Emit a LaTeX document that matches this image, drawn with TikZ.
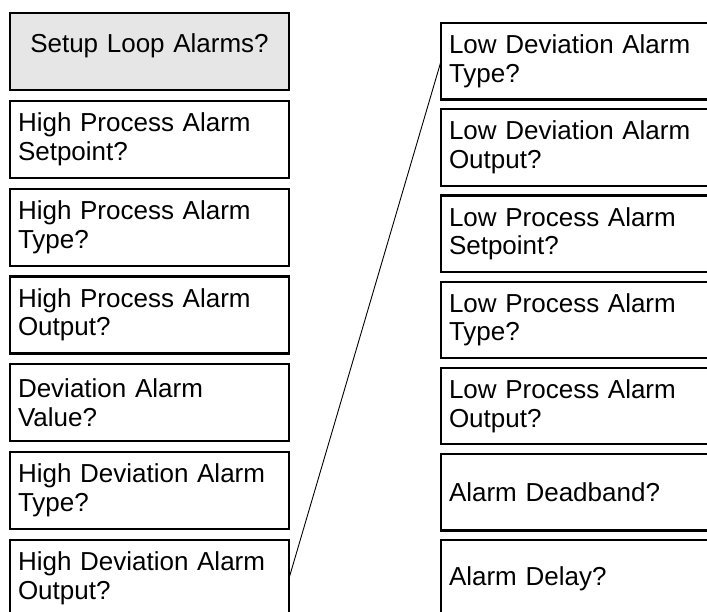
\documentclass[tikz,border=0pt]{standalone}
\usepackage{fontspec}
\setmainfont{Liberation Sans}
\usetikzlibrary{positioning}
\definecolor{setupgray}{RGB}{230,230,230}

\begin{document}
\begin{tikzpicture}[
    x=1pt, y=1pt,
    box/.style={rectangle, draw, line width=2.2pt, outer sep=0pt, inner xsep=8pt, inner ysep=0pt, text width=263pt, minimum height=77pt, align=left, font=\fontsize{26}{28.5}\selectfont},
    leftbox/.style={box, below=10.8pt of #1},
    rightbox/.style={box, minimum height=76.5pt, below=9.7pt of #1}
]
    \useasboundingbox (0,0) rectangle (707,-611);
    \clip (0,0) rectangle (707,-611);

    % Left column
    \node[box, fill=setupgray, align=center, text depth=16pt, anchor=north west] (setup) at (10,-13) {Setup Loop Alarms?};
    \node[leftbox=setup] (hpset) {High Process Alarm\\Setpoint?};
    \node[leftbox=hpset] (hptype) {High Process Alarm\\Type?};
    \node[leftbox=hptype] (hpout) {High Process Alarm\\Output?};
    \node[leftbox=hpout] (devval) {Deviation Alarm\\Value?};
    \node[leftbox=devval] (hdtype) {High Deviation Alarm\\Type?};
    \node[leftbox=hdtype] (hdout) {High Deviation Alarm\\Output?};

    % Right column
    \node[box, minimum height=76.5pt, anchor=north west] (ldtype) at (441,-23) {Low Deviation Alarm\\Type?};
    \node[rightbox=ldtype] (ldout) {Low Deviation Alarm\\Output?};
    \node[rightbox=ldout] (lpset) {Low Process Alarm\\Setpoint?};
    \node[rightbox=lpset] (lptype) {Low Process Alarm\\Type?};
    \node[rightbox=lptype] (lpout) {Low Process Alarm\\Output?};
    \node[rightbox=lpout] (deadband) {Alarm Deadband?};
    \node[rightbox=deadband] (delay) {Alarm Delay?};

    % Continuation
    \draw[line width=0.9pt] (hdout.east) -- (ldtype.west);
\end{tikzpicture}
\end{document}
